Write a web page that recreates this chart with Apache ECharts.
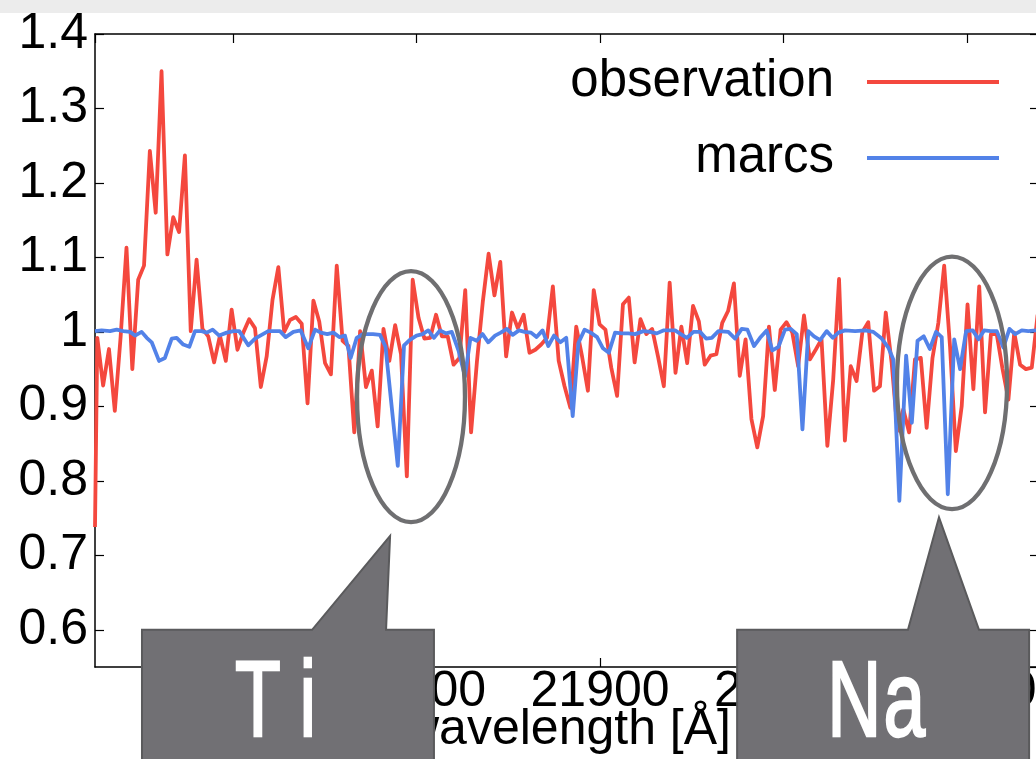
<!DOCTYPE html>
<html><head><meta charset="utf-8">
<script src="https://cdn.jsdelivr.net/npm/echarts@6/dist/echarts.min.js"></script>
<style>html,body{margin:0;padding:0;background:#fff;overflow:hidden}#c{width:1036px;height:759px}</style>
</head><body><div id="c"></div>
<script>
// ---- data ----
const seriesNames = ['observation', 'marcs'];
const obsEdge = [21624.8, 0.738];  // value where the spectrum meets the left edge
const obsStart = 21626.05;         // wavelength of first regular sample [Å]
const obsStep = 3.1826;            // sample spacing [Å]
const obsFlux = [
0.992, 0.928, 0.977, 0.894, 0.994, 1.113, 0.950, 1.070, 1.089, 1.243,
1.160, 1.350, 1.104, 1.154, 1.134, 1.237, 1.001, 1.097, 1.004, 0.994,
0.959, 0.995, 0.961, 1.030, 0.976, 0.999, 1.017, 1.005, 0.926, 0.967,
1.043, 1.087, 1.000, 1.016, 1.020, 1.011, 0.904, 1.042, 1.014, 0.958,
0.943, 1.089, 0.988, 0.981, 0.865, 1.001, 0.926, 0.948, 0.873, 1.004,
0.961, 1.009, 0.970, 0.806, 1.070, 1.019, 0.991, 0.992, 1.023, 0.994,
0.994, 0.956, 0.965, 1.056, 0.865, 0.960, 1.040, 1.105, 1.049, 1.094,
0.967, 1.026, 1.005, 1.023, 0.972, 0.976, 0.983, 0.992, 1.061, 0.961,
0.927, 0.898, 1.007, 0.967, 0.921, 1.056, 1.010, 1.003, 0.952, 0.914,
1.037, 1.046, 0.959, 1.017, 0.997, 1.004, 0.967, 0.927, 1.066, 0.945,
1.007, 0.958, 1.035, 1.014, 0.956, 0.968, 0.970, 1.012, 1.028, 1.065,
0.941, 0.990, 0.883, 0.845, 0.887, 1.007, 0.922, 1.003, 1.013, 0.999,
0.954, 1.022, 0.963, 0.976, 0.990, 0.847, 0.936, 1.071, 0.854, 0.954,
0.934, 1.000, 1.013, 0.921, 0.927, 1.026, 0.959, 0.867, 0.896, 0.865,
0.963, 0.965, 0.871, 0.965, 1.012, 1.089, 0.981, 0.840, 0.900, 1.037,
0.923, 1.061, 0.892, 0.997, 0.997, 0.950, 0.909, 0.999, 0.956, 0.950,
0.952, 1.023];
const marcsWave = [
21624.8, 21628.4, 21633.0, 21636.6, 21640.2, 21643.9, 21646.6, 21650.2, 21653.0, 21655.7,
21659.7, 21662.9, 21666.6, 21669.3, 21672.9, 21676.2, 21679.3, 21682.9, 21685.7, 21688.9,
21692.5, 21696.6, 21700.2, 21703.4, 21708.3, 21712.0, 21715.6, 21719.2, 21722.9, 21725.6,
21728.7, 21732.9, 21736.9, 21741.0, 21744.7, 21747.8, 21751.4, 21754.7, 21757.9, 21761.0,
21764.1, 21767.4, 21770.8, 21776.3, 21780.1, 21783.1, 21789.8, 21793.2, 21796.2, 21800.0,
21803.3, 21806.4, 21809.5, 21812.8, 21816.1, 21819.2, 21822.9, 21826.4, 21829.4, 21832.8,
21836.0, 21839.1, 21842.8, 21845.9, 21849.2, 21852.4, 21855.8, 21858.9, 21862.4, 21865.4,
21868.7, 21871.8, 21874.9, 21878.4, 21881.6, 21885.1, 21888.2, 21891.6, 21894.9, 21898.4,
21901.6, 21904.8, 21908.2, 21911.8, 21915.4, 21919.1, 21923.6, 21927.3, 21930.9, 21934.5,
21938.2, 21940.9, 21944.0, 21947.3, 21950.9, 21954.5, 21957.8, 21960.9, 21964.5, 21969.9,
21973.6, 21977.2, 21980.3, 21983.9, 21987.2, 21990.8, 21993.9, 21997.2, 22000.8, 22003.9,
22007.2, 22010.3, 22013.5, 22016.6, 22019.9, 22023.5, 22026.8, 22029.9, 22033.5, 22039.0,
22044.4, 22048.9, 22053.5, 22057.1, 22059.8, 22063.1, 22066.8, 22069.9, 22073.0, 22076.4,
22079.7, 22083.1, 22086.2, 22089.5, 22093.0, 22096.2, 22099.5, 22103.1, 22106.2, 22109.3,
22112.9, 22116.2, 22119.8, 22123.1, 22126.2, 22129.8, 22133.4, 22137.6];
const marcsFlux = [
1.001, 1.002, 1.001, 1.003, 1.001, 1.000, 0.995, 1.000, 0.992, 0.986,
0.961, 0.965, 0.991, 0.992, 0.983, 0.980, 1.001, 1.001, 0.999, 1.003,
0.995, 0.999, 1.001, 1.001, 0.982, 0.991, 0.996, 1.001, 1.001, 1.001,
0.993, 1.000, 1.002, 0.978, 1.003, 0.999, 0.997, 0.999, 0.993, 0.995,
0.965, 0.992, 0.997, 0.997, 0.996, 0.980, 0.820, 0.982, 0.989, 0.995,
0.997, 1.002, 0.992, 1.002, 0.998, 1.000, 0.975, 0.940, 0.992, 0.988,
0.997, 0.986, 0.995, 0.999, 1.004, 0.996, 1.002, 1.000, 0.999, 0.993,
1.002, 0.981, 0.995, 0.986, 0.992, 0.887, 0.985, 1.003, 0.999, 0.993,
0.978, 0.972, 0.999, 0.998, 0.998, 0.997, 1.001, 1.000, 0.998, 1.002,
1.002, 1.002, 0.997, 0.992, 1.000, 1.000, 0.991, 0.992, 1.001, 1.000,
0.991, 1.004, 1.003, 0.981, 0.992, 1.002, 0.975, 0.980, 1.003, 1.004,
0.997, 0.869, 1.001, 0.994, 0.989, 1.001, 0.992, 0.999, 1.002, 1.001,
1.002, 1.000, 0.991, 0.979, 0.963, 0.773, 0.968, 0.878, 0.988, 0.994,
0.977, 1.000, 0.993, 0.782, 0.990, 0.950, 1.001, 1.002, 0.990, 1.002,
1.001, 1.001, 0.979, 1.004, 0.997, 1.002, 1.001, 1.002];
// callout annotations (data units: wavelength, flux)
const calloutLabels = ['Ti', 'Na'];
const ellipseCenter = [[21797.0, 0.913], [22091.8, 0.9315]];
const ellipseHalfSize = [[29.4, 0.1685], [30.0, 0.1696]];
const boxSpan = [[21650.4, 21809.5], [21974.7, 22133.8]];
const pointerBase = [[21743.1, 21783.4], [22067.8, 22106.5]];
const pointerTip = [[21785.6, 0.726], [22084.7, 0.751]];
const labelCenter = [[21727.2, 0.4975], [22052.2, 0.4975]];
const boxTop = 0.6, boxBottom = 0.40;

// ---- chart ----
const FONT = '"Liberation Sans", Arial, Helvetica, sans-serif';
const RED = '#f4483e', BLUE = '#5282e8';
const obsData = [obsEdge].concat(obsFlux.map((v, i) => [obsStart + i * obsStep, v]));
const marcsData = marcsWave.map((w, i) => [w, marcsFlux[i]]);
const xMin = 21624.8, xMax = 22139.2, yMin = 0.55, yMax = 1.4;

const axisLine = {show: true, onZero: false, lineStyle: {color: '#000', width: 1.5}};
const axisTick = {show: true, inside: true, length: 9, lineStyle: {color: '#000', width: 1.2}};

const legendBase = {
  orient: 'vertical', align: 'right', right: 37, padding: 0, icon: 'rect',
  itemWidth: 132, itemHeight: 4, selectedMode: false,
  textStyle: {fontSize: 51, fontFamily: FONT, color: '#000', lineHeight: 56, padding: [0, 28, 0, 0]}
};

const option = {
  animation: false,
  backgroundColor: '#fff',
  grid: {left: 95, right: -3, top: 34, bottom: 92, containLabel: false, outerBoundsMode: 'none'},
  legend: [
    Object.assign({}, legendBase, {data: [seriesNames[0]], top: 54}),
    Object.assign({}, legendBase, {data: [seriesNames[1]], top: 130})
  ],
  xAxis: [{
    type: 'value', position: 'bottom', min: xMin, max: xMax, splitNumber: 5,
    axisLine, axisTick, splitLine: {show: false},
    axisLabel: {fontSize: 50, fontFamily: FONT, color: '#000', margin: 0, showMinLabel: false, showMaxLabel: false,
      formatter: v => String(Math.round(v))},
    name: 'wavelength [Å]', nameLocation: 'middle', nameGap: 38, nameMoveOverlap: false,
    nameTextStyle: {fontSize: 50, fontFamily: FONT, color: '#000'}
  }, {
    type: 'value', position: 'top', min: xMin, max: xMax, splitNumber: 5,
    axisLine, axisTick, splitLine: {show: false}, axisLabel: {show: false}
  }],
  yAxis: [{
    type: 'value', position: 'left', min: yMin, max: yMax, splitNumber: 9,
    axisLine, axisTick, splitLine: {show: false},
    axisLabel: {fontSize: 50, fontFamily: FONT, color: '#000', margin: 7, showMinLabel: false, padding: [0, 0, 7, 0]}
  }, {
    type: 'value', position: 'right', min: yMin, max: yMax, splitNumber: 9,
    axisLine, axisTick, splitLine: {show: false}, axisLabel: {show: false}
  }],
  series: [{
    name: seriesNames[0], type: 'line', data: obsData, symbol: 'none', showSymbol: false,
    lineStyle: {color: RED, width: 3.8, join: 'round'}, itemStyle: {color: RED}, z: 2, clip: true
  }, {
    name: seriesNames[1], type: 'line', data: marcsData, symbol: 'none', showSymbol: false,
    lineStyle: {color: BLUE, width: 3.8, join: 'round'}, itemStyle: {color: BLUE}, z: 3, clip: true
  }]
};

const chart = echarts.init(document.getElementById('c'), null, {renderer: 'canvas'});
chart.setOption(option);

const px = p => chart.convertToPixel({xAxisIndex: 0, yAxisIndex: 0}, p);
const graphics = [{type: 'rect', shape: {x: 0, y: 0, width: 1036, height: 13}, style: {fill: '#ececec'}, z: 0}];
calloutLabels.forEach((lab, i) => {
  const c = px(ellipseCenter[i]);
  const e = px([ellipseCenter[i][0] + ellipseHalfSize[i][0], ellipseCenter[i][1] + ellipseHalfSize[i][1]]);
  graphics.push({type: 'ellipse', shape: {cx: c[0], cy: c[1], rx: e[0] - c[0], ry: c[1] - e[1]},
    style: {fill: 'none', stroke: '#6f6f71', lineWidth: 4.3}, z: 60});
  const L = px([boxSpan[i][0], boxTop]), R = px([boxSpan[i][1], boxBottom]);
  const b1 = px([pointerBase[i][0], boxTop]), b2 = px([pointerBase[i][1], boxTop]);
  const tip = px(pointerTip[i]);
  graphics.push({type: 'polygon', shape: {points: [
      [L[0], L[1]], [b1[0], L[1]], tip, [b2[0], L[1]], [R[0], L[1]], [R[0], R[1]], [L[0], R[1]]]},
    style: {fill: '#717074', stroke: '#5a5a5c', lineWidth: 2}, z: 100});
  const t = px(labelCenter[i]);
  const chars = lab.split('');
  const pitch = 50;
  chars.forEach((ch, j) => {
    graphics.push({type: 'text', x: t[0] + (j - (chars.length - 1) / 2) * pitch, y: t[1],
      scaleX: 0.7, scaleY: 1, z: 101,
      style: {text: ch, fill: '#fff', stroke: '#fff', lineWidth: 2.5,
        font: '107px "Liberation Sans", Arial, sans-serif',
        align: 'center', verticalAlign: 'middle', textAlign: 'center', textVerticalAlign: 'middle'}});
  });
});
chart.setOption({graphic: graphics});
</script></body></html>
